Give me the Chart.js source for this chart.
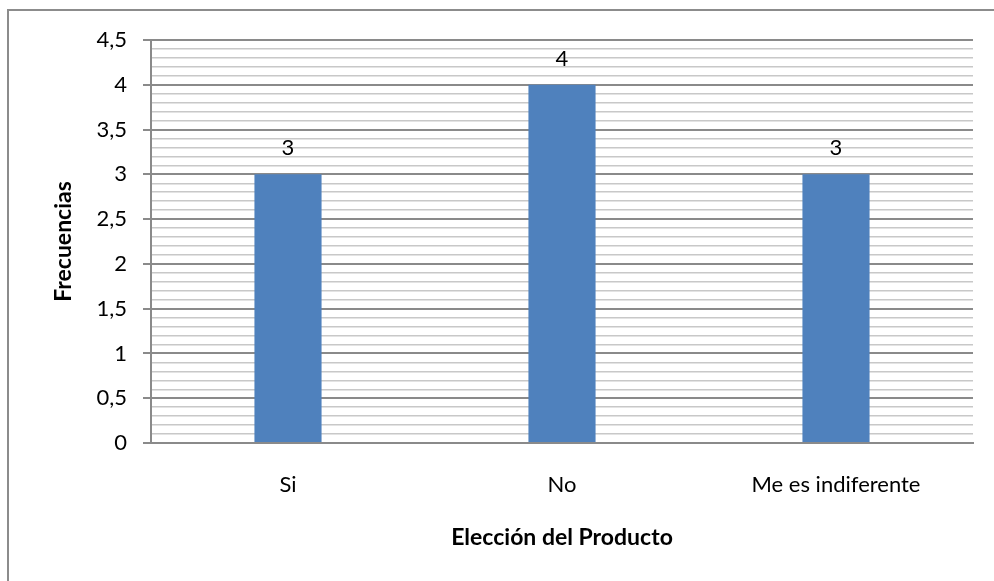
<!DOCTYPE html>
<html>
<head>
<meta charset="utf-8">
<script src="https://cdn.jsdelivr.net/npm/chart.js@4.4.1/dist/chart.umd.min.js"></script>
<style>
    html, body { margin: 0; padding: 0; background: #fff; }
    #wrap { position: relative; width: 994px; height: 581px; overflow: hidden; }
    #frame { position: absolute; left: 7px; top: 9px; width: 1000px; height: 600px; border: 2px solid #8c8c8c; box-sizing: border-box; }
    #grafico { position: absolute; left: 0; top: 0; }
</style>
</head>
<body>
<div id="wrap">
    <div id="frame"></div>
    <canvas id="grafico" width="994" height="581"></canvas>
</div>
<script>
const categorias = ['Si', 'No', 'Me es indiferente'];
const frecuencias = [3, 4, 3];
const ejeYMax = 4.5;
const ejeYPaso = 0.1;

const fuente = 'Lato, "Open Sans", sans-serif';

function esMayor(v) {
    return Math.round(v * 10) % 5 === 0;
}

// etiquetas de valor encima de cada barra
const etiquetasValor = {
    id: 'etiquetasValor',
    afterDatasetsDraw(chart) {
        const ctx = chart.ctx;
        const meta = chart.getDatasetMeta(0);
        ctx.save();
        ctx.font = '22px ' + fuente;
        ctx.fillStyle = '#000';
        ctx.textAlign = 'center';
        ctx.textBaseline = 'middle';
        meta.data.forEach((bar, i) => {
            ctx.fillText(String(chart.data.datasets[0].data[i]), bar.x, bar.y - 26);
        });
        ctx.restore();
    }
};

function cargarGrafico() {
    const ctx = document.getElementById('grafico').getContext('2d');

    new Chart(ctx, {
        type: 'bar',
        data: {
            labels: categorias,
            datasets: [{
                label: 'Frecuencias',
                data: frecuencias,
                backgroundColor: '#4F81BD',
                borderWidth: 0,
                categoryPercentage: 1,
                barPercentage: 0.245
            }]
        },
        options: {
            responsive: false,
            animation: false,
            layout: {
                padding: { left: 50, top: 40, right: 21, bottom: 0 }
            },
            plugins: {
                legend: { display: false },
                tooltip: { enabled: false }
            },
            scales: {
                x: {
                    afterFit: (scale) => { scale.height = 138; },
                    grid: { display: false, drawTicks: false },
                    border: { display: true, color: '#8a8a8a', width: 2 },
                    ticks: {
                        color: '#000',
                        padding: 29,
                        font: { family: fuente, size: 22 }
                    },
                    title: {
                        display: true,
                        text: 'Elección del Producto',
                        color: '#000',
                        padding: { top: 0, bottom: 30 },
                        font: { family: fuente, size: 23, weight: 'bold' }
                    }
                },
                y: {
                    min: 0,
                    max: ejeYMax,
                    afterFit: (scale) => { scale.width = 101; },
                    border: { display: true, color: '#8a8a8a', width: 2 },
                    grid: {
                        color: (c) => esMayor(c.tick.value) ? '#8a8a8a' : '#c8c8c8',
                        lineWidth: (c) => esMayor(c.tick.value) ? 2 : 1.5,
                        tickColor: (c) => esMayor(c.tick.value) ? '#8a8a8a' : 'rgba(0,0,0,0)',
                        tickLength: 8
                    },
                    ticks: {
                        stepSize: ejeYPaso,
                        autoSkip: false,
                        padding: 16,
                        color: '#000',
                        font: { family: fuente, size: 22 },
                        callback: (v) => esMayor(v) ? String(Math.round(v * 10) / 10).replace('.', ',') : ''
                    },
                    title: {
                        display: true,
                        text: 'Frecuencias',
                        color: '#000',
                        padding: 0,
                        font: { family: fuente, size: 23, weight: 'bold' }
                    }
                }
            }
        },
        plugins: [etiquetasValor]
    });
}

window.onload = cargarGrafico;
</script>
</body>
</html>
